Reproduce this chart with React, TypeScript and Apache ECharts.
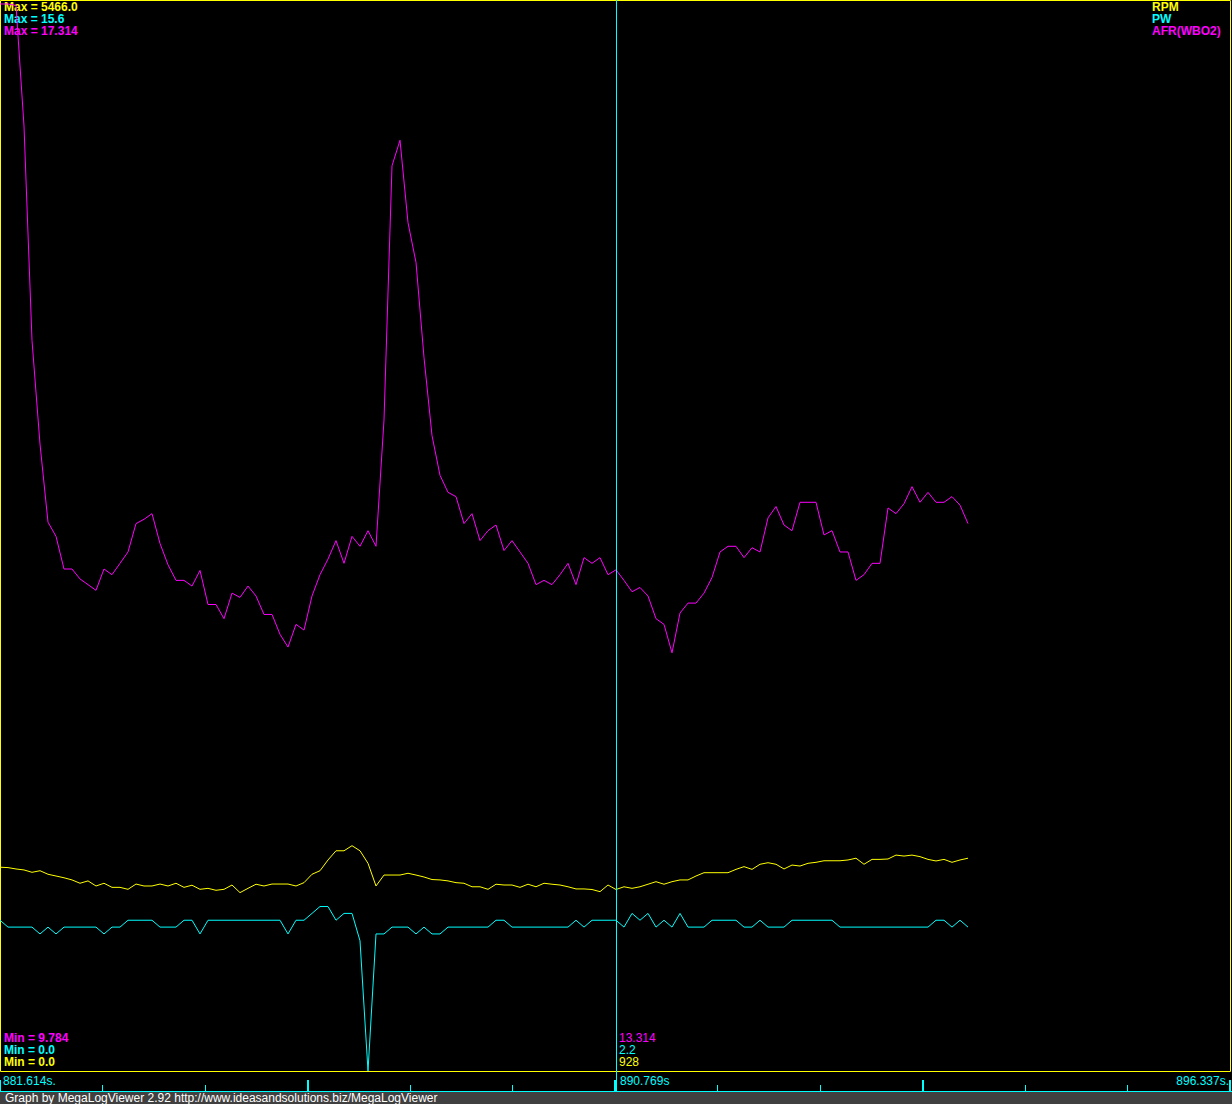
import React, { useEffect, useRef } from "react";
import * as echarts from "echarts";

// ---- data (one value per log record shown in the window) ----
const seriesNames = ["RPM", "PW", "AFR(WBO2)"];
const seriesColors = ["#ffff00", "#00ffff", "#ff00ff"];
const maxLabels = ["Max = 5466.0", "Max = 15.6", "Max = 17.314"];
const minLabels = ["Min = 9.784", "Min = 0.0", "Min = 0.0"];
const minColors = ["#ff00ff", "#00ffff", "#ffff00"];
const cursorLabels = ["13.314", "2.2", "928"];
const timeLabels = ["881.614s.", "890.769s", "896.337s."];
const footerText = "Graph by MegaLogViewer 2.92 http://www.ideasandsolutions.biz/MegaLogViewer";

const rpmRange = [0, 5466];
const pwRange = [0, 15.6];
const afrRange = [9.784, 17.314];
const cursorIndex = 77;
const windowRecords = 153.75;
const minorTickStep = 12.8125;
const majorTickStep = 38.4375;

const rpm = [
  1042, 1040, 1033, 1028, 1016, 1024, 1006, 997, 988, 977,
  960, 972, 946, 960, 939, 939, 929, 956, 946, 946,
  956, 946, 960, 939, 950, 929, 934, 924, 929, 951,
  912, 934, 955, 946, 956, 956, 956, 946, 963, 1006,
  1024, 1079, 1126, 1126, 1152, 1126, 1062, 946, 1002, 1002,
  1002, 1011, 1002, 992, 979, 977, 972, 963, 960, 942,
  942, 929, 955, 951, 951, 939, 955, 942, 960, 955,
  951, 942, 931, 931, 928, 917, 951, 928, 942, 934,
  942, 955, 968, 955, 968, 977, 977, 997, 1014, 1014,
  1014, 1014, 1031, 1045, 1031, 1057, 1065, 1057, 1033, 1053,
  1048, 1062, 1067, 1075, 1075, 1075, 1079, 1088, 1057, 1082,
  1082, 1084, 1104, 1099, 1104, 1096, 1082, 1074, 1082, 1067,
  1079, 1088,
];

const pw = [
  2.2, 2.1, 2.1, 2.1, 2.1, 2.0, 2.1, 2.0, 2.1, 2.1,
  2.1, 2.1, 2.1, 2.0, 2.1, 2.1, 2.2, 2.2, 2.2, 2.2,
  2.1, 2.1, 2.1, 2.2, 2.2, 2.0, 2.2, 2.2, 2.2, 2.2,
  2.2, 2.2, 2.2, 2.2, 2.2, 2.2, 2.0, 2.2, 2.2, 2.3,
  2.4, 2.4, 2.2, 2.3, 2.3, 1.9, 0.0, 2.0, 2.0, 2.1,
  2.1, 2.1, 2.0, 2.1, 2.0, 2.0, 2.1, 2.1, 2.1, 2.1,
  2.1, 2.1, 2.2, 2.2, 2.1, 2.1, 2.1, 2.1, 2.1, 2.1,
  2.1, 2.1, 2.2, 2.1, 2.2, 2.2, 2.2, 2.2, 2.1, 2.3,
  2.2, 2.3, 2.1, 2.2, 2.1, 2.3, 2.1, 2.1, 2.1, 2.2,
  2.2, 2.2, 2.2, 2.1, 2.1, 2.2, 2.1, 2.1, 2.1, 2.2,
  2.2, 2.2, 2.2, 2.2, 2.2, 2.1, 2.1, 2.1, 2.1, 2.1,
  2.1, 2.1, 2.1, 2.1, 2.1, 2.1, 2.1, 2.2, 2.2, 2.1,
  2.2, 2.1,
];

const afr = [
  17.30, 17.30, 17.29, 16.44, 14.93, 14.20, 13.65, 13.55, 13.32, 13.32,
  13.25, 13.21, 13.17, 13.32, 13.28, 13.36, 13.44, 13.64, 13.67, 13.71,
  13.50, 13.35, 13.24, 13.24, 13.20, 13.31, 13.07, 13.07, 12.97, 13.15,
  13.12, 13.20, 13.13, 13.00, 13.00, 12.86, 12.77, 12.93, 12.89, 13.13,
  13.28, 13.39, 13.52, 13.36, 13.55, 13.48, 13.59, 13.48, 14.37, 16.16,
  16.34, 15.76, 15.48, 14.81, 14.26, 13.98, 13.86, 13.83, 13.64, 13.71,
  13.52, 13.59, 13.63, 13.45, 13.52, 13.44, 13.36, 13.21, 13.24, 13.21,
  13.28, 13.36, 13.21, 13.40, 13.36, 13.40, 13.28, 13.314, 13.24, 13.16,
  13.19, 13.13, 12.97, 12.93, 12.73, 13.01, 13.08, 13.08, 13.15, 13.26,
  13.44, 13.48, 13.48, 13.40, 13.47, 13.44, 13.68, 13.76, 13.63, 13.59,
  13.79, 13.79, 13.79, 13.56, 13.59, 13.44, 13.44, 13.24, 13.28, 13.36,
  13.36, 13.75, 13.71, 13.78, 13.90, 13.79, 13.86, 13.79, 13.79, 13.83,
  13.77, 13.64,
];

const BOLD = 'bold 12px "Liberation Sans", Arial, sans-serif';
const REG = '12px "Liberation Sans", Arial, sans-serif';

function txt(text: string, x: number, y: number, fill: string, font: string, align = "left") {
  return {
    type: "text",
    x,
    y,
    silent: true,
    style: { text, fill, font, textAlign: align, textVerticalAlign: "top" },
  };
}

export default function App() {
  const ref = useRef<HTMLDivElement>(null);

  useEffect(() => {
    document.body.style.margin = "0";
    document.body.style.background = "#000";
    if (!ref.current) return;
    const chart = echarts.init(ref.current, null, { renderer: "svg" });

    const toPairs = (arr: number[]) => arr.map((v, i) => [i, v]);
    const lineSeries = (name: string, data: number[], yIdx: number, color: string) => ({
      name,
      type: "line",
      xAxisIndex: 0,
      yAxisIndex: yIdx,
      data: toPairs(data),
      showSymbol: false,
      symbol: "none",
      silent: true,
      lineStyle: { color, width: 1 },
    });

    const graphics: any[] = [
      {
        type: "rect",
        silent: true,
        shape: { x: 0, y: 1092, width: 1232, height: 12 },
        style: { fill: "#404040" },
      },
      {
        type: "rect",
        silent: true,
        shape: { x: 0.5, y: 0.5, width: 1230, height: 1071 },
        style: { fill: "none", stroke: "#ffff00", lineWidth: 1 },
      },
      {
        type: "line",
        silent: true,
        shape: { x1: 0, y1: 1091.5, x2: 1232, y2: 1091.5 },
        style: { stroke: "#00ffff", lineWidth: 1 },
      },
    ];
    maxLabels.forEach((t, i) => graphics.push(txt(t, 4, 1 + i * 12, seriesColors[i], BOLD)));
    seriesNames.forEach((t, i) => graphics.push(txt(t, 1152, 1 + i * 12, seriesColors[i], BOLD)));
    minLabels.forEach((t, i) => graphics.push(txt(t, 4, 1032 + i * 12, minColors[i], BOLD)));
    cursorLabels.forEach((t, i) => graphics.push(txt(t, 619, 1032 + i * 12, minColors[i], REG)));
    graphics.push(txt(timeLabels[0], 3, 1075, "#00ffff", REG));
    graphics.push(txt(timeLabels[1], 620, 1075, "#00ffff", REG));
    graphics.push(txt(timeLabels[2], 1229, 1075, "#00ffff", REG, "right"));
    graphics.push(txt(footerText, 5, 1092, "#ffffff", REG));

    const tickAxis = (interval: number, length: number, width: number) => ({
      gridIndex: 1,
      type: "value",
      position: "bottom",
      min: 0,
      max: windowRecords,
      interval,
      axisLine: { show: false },
      axisTick: { show: true, inside: true, length, lineStyle: { color: "#00ffff", width } },
      axisLabel: { show: false },
      splitLine: { show: false },
    });

    chart.setOption({
      animation: false,
      backgroundColor: "#000000",
      grid: [
        { left: 0, top: 2, width: 1230, height: 1069, show: false },
        { left: 0, top: 1072, width: 1230, height: 19, show: false },
        { left: 0.5, top: 0, width: 1230, height: 1091, show: false },
      ],
      xAxis: [
        { gridIndex: 0, type: "value", min: 0, max: windowRecords, show: false },
        tickAxis(minorTickStep, 6, 1),
        tickAxis(majorTickStep, 11, 2),
        { gridIndex: 2, type: "value", min: 0, max: windowRecords, show: false },
      ],
      yAxis: [
        { gridIndex: 0, type: "value", min: afrRange[0], max: afrRange[1], show: false },
        { gridIndex: 0, type: "value", min: pwRange[0], max: pwRange[1], show: false },
        { gridIndex: 0, type: "value", min: rpmRange[0], max: rpmRange[1], show: false },
        { gridIndex: 1, type: "value", min: 0, max: 1, show: false },
        { gridIndex: 2, type: "value", min: 0, max: 1, show: false },
      ],
      graphic: graphics,
      series: [
        lineSeries(seriesNames[2], afr, 0, seriesColors[2]),
        lineSeries(seriesNames[0], rpm, 2, seriesColors[0]),
        lineSeries(seriesNames[1], pw, 1, seriesColors[1]),
        {
          name: "cursor",
          type: "line",
          xAxisIndex: 3,
          yAxisIndex: 4,
          data: [
            [cursorIndex, 0],
            [cursorIndex, 1],
          ],
          showSymbol: false,
          symbol: "none",
          silent: true,
          lineStyle: { color: "#00ffff", width: 1 },
        },
      ],
    });

    return () => chart.dispose();
  }, []);

  return <div ref={ref} style={{ width: 1232, height: 1104, background: "#000" }} />;
}
